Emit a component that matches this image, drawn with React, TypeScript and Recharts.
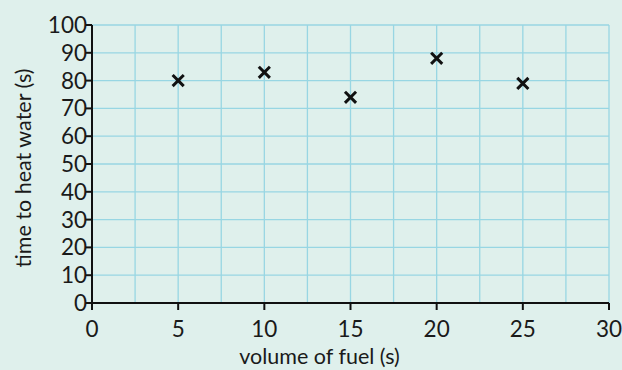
import React from 'react';
import { ScatterChart, Scatter, XAxis, YAxis, CartesianGrid, Label } from 'recharts';

const fuelVolume = [5, 10, 15, 20, 25];
const heatTime = [80, 83, 74, 88, 79];
const xTicks = [0, 2.5, 5, 7.5, 10, 12.5, 15, 17.5, 20, 22.5, 25, 27.5, 30];
const yTicks = [0, 10, 20, 30, 40, 50, 60, 70, 80, 90, 100];

const points = fuelVolume.map((v, i) => ({ volume: v, time: heatTime[i] }));

const BG = '#dff0ec';
const GRID = '#98d6e3';
const FONT = 'Lato, "Open Sans", sans-serif';

const XTick = (props: any) => {
  const { x, y, payload } = props;
  if (payload.value % 5 !== 0) return null;
  return (
    <g>
      <line x1={x} y1={y} x2={x} y2={y + 7} stroke="#111" strokeWidth={2} />
      <text x={x} y={y + 34} textAnchor="middle" fontSize={22.5} fill="#1a1a1a" fontFamily={FONT}>
        {payload.value}
      </text>
    </g>
  );
};

const YTick = (props: any) => {
  const { x, y, payload } = props;
  return (
    <g>
      <line x1={x - 7} y1={y} x2={x} y2={y} stroke="#111" strokeWidth={2} />
      <text x={x - 5} y={y + 8} textAnchor="end" fontSize={22.5} fill="#1a1a1a" fontFamily={FONT}>
        {payload.value}
      </text>
    </g>
  );
};

const Cross = (props: any) => {
  const { cx, cy } = props;
  const r = 4.5;
  return (
    <g stroke="#111" strokeWidth={3} strokeLinecap="square">
      <line x1={cx - r} y1={cy - r} x2={cx + r} y2={cy + r} />
      <line x1={cx - r} y1={cy + r} x2={cx + r} y2={cy - r} />
    </g>
  );
};

export default function App() {
  return (
    <div style={{ position: 'absolute', left: 0, top: 0, width: 622, height: 370, background: BG }}>
      <ScatterChart width={622} height={370} margin={{ top: 25, right: 13, bottom: 0, left: 0 }}>
        <CartesianGrid stroke={GRID} strokeWidth={1.3} />
        <XAxis
          type="number"
          dataKey="volume"
          domain={[0, 30]}
          ticks={xTicks}
          interval={0}
          height={67}
          tickSize={0}
          tickMargin={0}
          tickLine={false}
          tick={<XTick />}
          axisLine={{ stroke: '#111', strokeWidth: 2 }}
        >
          <Label
            value="volume of fuel (s)"
            position="insideBottom"
            offset={6}
            dx={-31}
            style={{ fontSize: 21.5, fontFamily: FONT, fill: '#1a1a1a' }}
          />
        </XAxis>
        <YAxis
          type="number"
          dataKey="time"
          domain={[0, 100]}
          ticks={yTicks}
          interval={0}
          width={92}
          tickSize={0}
          tickMargin={0}
          tickLine={false}
          tick={<YTick />}
          axisLine={{ stroke: '#111', strokeWidth: 2 }}
        >
          <Label
            content={({ viewBox }: any) => {
              const cy = viewBox.y + viewBox.height / 2 + 4;
              return (
                <text
                  x={31}
                  y={cy}
                  transform={`rotate(-90, 31, ${cy})`}
                  textAnchor="middle"
                  fontSize={21.5}
                  fontFamily={FONT}
                  fill="#1a1a1a"
                >
                  time to heat water (s)
                </text>
              );
            }}
          />
        </YAxis>
        <Scatter data={points} shape={<Cross />} isAnimationActive={false} />
      </ScatterChart>
    </div>
  );
}
